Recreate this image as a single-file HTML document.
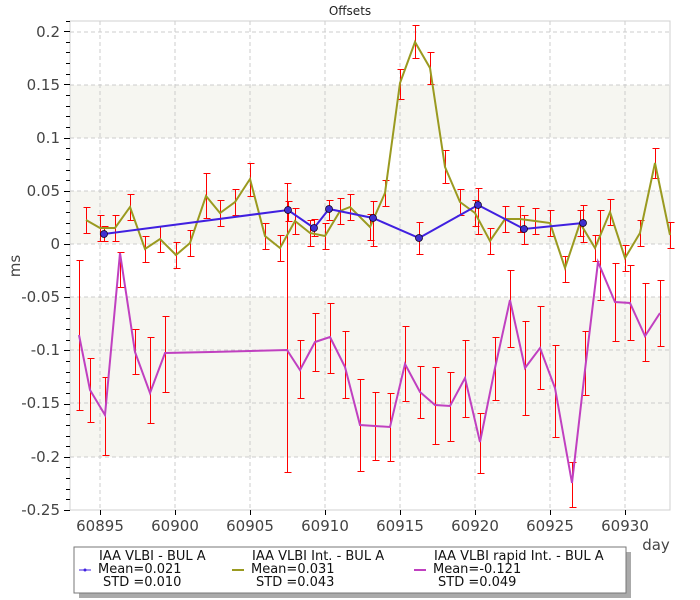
<!DOCTYPE html>
<html><head><meta charset="utf-8"><style>
body{margin:0;background:#fff;width:700px;height:600px;overflow:hidden}
svg{display:block;font-family:"DejaVu Sans","Liberation Sans",sans-serif}
</style></head><body>
<svg width="700" height="600" viewBox="0 0 700 600" xmlns="http://www.w3.org/2000/svg">
<rect x="70" y="85" width="600" height="53" fill="#f6f6f1"/>
<rect x="70" y="191" width="600" height="53" fill="#f6f6f1"/>
<rect x="70" y="297" width="600" height="160" fill="#f6f6f1"/>
<g stroke="#ccc" stroke-dasharray="4,3" stroke-width="1">
<line x1="70" y1="32" x2="670" y2="32"/><line x1="70" y1="85" x2="670" y2="85"/><line x1="70" y1="138" x2="670" y2="138"/><line x1="70" y1="191" x2="670" y2="191"/><line x1="70" y1="244" x2="670" y2="244"/><line x1="70" y1="297" x2="670" y2="297"/><line x1="70" y1="350" x2="670" y2="350"/><line x1="70" y1="403" x2="670" y2="403"/><line x1="70" y1="457" x2="670" y2="457"/>
<line x1="100" y1="21" x2="100" y2="510"/><line x1="175" y1="21" x2="175" y2="510"/><line x1="250" y1="21" x2="250" y2="510"/><line x1="325" y1="21" x2="325" y2="510"/><line x1="400" y1="21" x2="400" y2="510"/><line x1="475" y1="21" x2="475" y2="510"/><line x1="550" y1="21" x2="550" y2="510"/><line x1="625" y1="21" x2="625" y2="510"/>
</g>
<rect x="70" y="21" width="600" height="489" fill="none" stroke="#d0d0d0"/>
<g stroke="#000" stroke-width="1" id="ticks" shape-rendering="crispEdges"></g>
<g font-size="15" fill="#444" text-anchor="end">
<text x="60" y="37">0.2</text><text x="60" y="90">0.15</text><text x="60" y="143">0.1</text><text x="60" y="196">0.05</text><text x="60" y="249">0</text><text x="60" y="302">-0.05</text><text x="60" y="355">-0.1</text><text x="60" y="408">-0.15</text><text x="60" y="462">-0.2</text><text x="60" y="515">-0.25</text>
</g>
<g font-size="15" fill="#444" text-anchor="middle">
<text x="100" y="531">60895</text><text x="175" y="531">60900</text><text x="250" y="531">60905</text><text x="325" y="531">60910</text><text x="400" y="531">60915</text><text x="475" y="531">60920</text><text x="550" y="531">60925</text><text x="625" y="531">60930</text>
<text x="656" y="550">day</text>
</g>
<text x="350" y="15" font-size="12" text-anchor="middle" fill="#222">Offsets</text>
<text transform="translate(20,266) rotate(-90)" font-size="15" fill="#444" text-anchor="middle">ms</text>
<g id="err" stroke="#ff0000" stroke-width="1"></g>
<polyline fill="none" stroke="#c040c0" stroke-width="2" points="79,335 90,390 105,415 120,253 135,352 150,393 165,353 211,352 250,351 287,350 300,370 315,342 330,337 345,367 360,425 375,426 390,427 405,364 420,392 435,405 450,406 465,378 480,442 495,368 510,300 525,368 540,348 555,388 572,483 585,370 598,262 615,302 630,303 645,336 660,313"/>
<polyline fill="none" stroke="#9a9a20" stroke-width="2" points="86,220 100,228 115,228 130,207 145,249 160,239 176,255 190,243 206,196 220,213 235,202 250,179 265,236 280,248 295,221 310,233 325,236 340,211 350,207 370,227 385,193 400,83 415,42 430,68 445,167 460,202 475,213 490,241 505,219 520,219 535,221 550,223 565,268 580,223 595,248 610,212 625,258 640,233 655,163 670,235"/>
<polyline fill="none" stroke="#4020e0" stroke-width="2" points="104,234 288,210 314,228 329,209 373,218 419,238 478,205 524,229 583,223"/>
<g fill="#4030d0" stroke="#102" stroke-width="0.8">
<circle cx="104" cy="234" r="3.5"/><circle cx="288" cy="210" r="3.5"/><circle cx="314" cy="228" r="3.5"/><circle cx="329" cy="209" r="3.5"/><circle cx="373" cy="218" r="3.5"/><circle cx="419" cy="238" r="3.5"/><circle cx="478" cy="205" r="3.5"/><circle cx="524" cy="229" r="3.5"/><circle cx="583" cy="223" r="3.5"/>
</g>
<rect x="79" y="552" width="552" height="46" fill="#aaa"/>
<rect x="74" y="547" width="552" height="46" fill="#fff" stroke="#777"/>
<g font-size="13" fill="#111">
<text x="99" y="560">IAA VLBI - BUL A</text><text x="98" y="573">Mean=0.021</text><text x="103" y="586">STD =0.010</text>
<text x="252" y="560">IAA VLBI Int. - BUL A</text><text x="251" y="573">Mean=0.031</text><text x="256" y="586">STD =0.043</text>
<text x="434" y="560">IAA VLBI rapid Int. - BUL A</text><text x="433" y="573">Mean=-0.121</text><text x="438" y="586">STD =0.049</text>
</g>
<line x1="79" y1="570" x2="91" y2="570" stroke="#4020e0" stroke-width="1"/><circle cx="85" cy="570" r="1.5" fill="#4020e0"/>
<line x1="232" y1="570" x2="244" y2="570" stroke="#9a9a20" stroke-width="2"/>
<line x1="414" y1="570" x2="426" y2="570" stroke="#c040c0" stroke-width="2"/>
<script>
var ns="http://www.w3.org/2000/svg";
function L(g,x1,y1,x2,y2){var l=document.createElementNS(ns,"line");l.setAttribute("x1",x1);l.setAttribute("y1",y1);l.setAttribute("x2",x2);l.setAttribute("y2",y2);g.appendChild(l);}
var t=document.getElementById("ticks");
for(var i=0;i<=46;i++){var y=Math.round(510-i*10.64)+0.5;var major=(i%5==0);L(t,major?64:66,y,70,y);}
for(var d=0;d<8;d++){var x=100+75*d+0.5;L(t,x,510,x,515);}
var e=document.getElementById("err");
var bars=[[79,260,410],[90,358,422],[105,377,455],[120,252,287],[135,329,374],[150,337,423],[165,316,392],[287,183,472],[300,340,398],[315,313,371],[330,303,373],[345,331,398],[360,379,471],[375,392,460],[390,393,461],[405,326,401],[420,366,418],[435,367,444],[450,372,441],[465,340,417],[480,413,473],[495,337,400],[510,270,347],[525,321,415],[540,306,389],[555,345,437],[572,462,507],[585,331,395],[600,210,300],[615,263,341],[630,265,340],[645,283,361],[660,280,346],
[400,69,99],[415,25,58],[430,52,84],[445,150,183],[565,256,282],[655,148,178],[206,173,218],[250,163,196],[104,226,241],[288,201,221],[314,219,236],[329,200,220],[373,201,246],[419,222,254],[478,188,234],[524,215,244],[583,205,242]];
var olx=[86,100,115,130,145,160,176,190,220,235,265,280,295,310,325,340,350,370,385,460,475,490,505,520,535,550,580,595,610,625,640,670];
var oly={86:220,100:228,115:228,130:207,145:249,160:239,176:255,190:243,220:213,235:202,265:236,280:248,295:221,310:233,325:236,340:211,350:207,370:227,385:193,460:202,475:213,490:241,505:219,520:219,535:221,550:223,580:223,595:248,610:212,625:258,640:233,670:235};
olx.forEach(function(x){bars.push([x,oly[x]-13,oly[x]+13]);});
bars.forEach(function(b){var x=b[0]+0.5,y1=b[1]+0.5,y2=b[2]+0.5;L(e,x,y1,x,y2);L(e,x-3,y1,x+4,y1);L(e,x-3,y2,x+4,y2);});
</script>
</svg>
</body></html>
